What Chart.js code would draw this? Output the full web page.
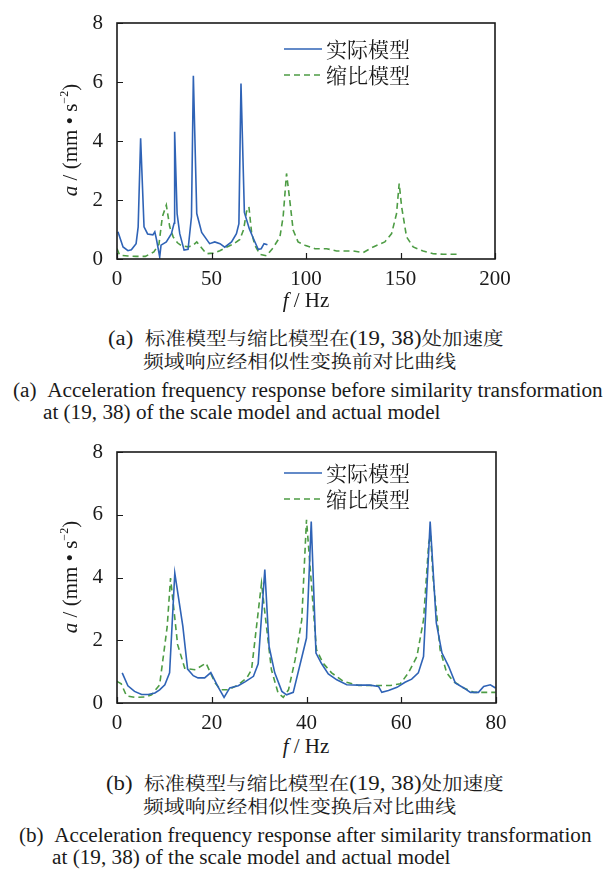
<!DOCTYPE html>
<html>
<head>
<meta charset="utf-8">
<script src="https://cdn.jsdelivr.net/npm/chart.js@4/dist/chart.umd.min.js"></script>
<style>
  body{margin:0;background:#fff;width:606px;height:874px;position:relative;overflow:hidden;
       font-family:"Liberation Serif","Noto Serif CJK SC",serif;color:#1a1a1a;}
  canvas{position:absolute;left:0;}
  .ytitle{position:absolute;white-space:nowrap;font-size:21px;transform:translate(-50%,-50%) rotate(-90deg);}
  .xtitle{position:absolute;white-space:nowrap;font-size:21px;transform:translate(-50%,-50%);}
  .ytitle sup{font-size:12px;vertical-align:9px;}
  .cap{position:absolute;white-space:nowrap;font-size:20px;line-height:24px;transform-origin:0 50%;}
  .cn{font-family:"Noto Serif CJK SC",serif;font-size:18px;}
</style>
</head>
<body>
<canvas id="chartTop" width="606" height="290" style="top:0"></canvas>
<canvas id="chartBottom" width="606" height="300" style="top:430px"></canvas>

<div class="ytitle" style="left:70px;top:140px"><i>a</i> / (mm • s<sup>−2</sup>)</div>
<div class="xtitle" style="left:306px;top:300px"><i>f</i> / Hz</div>
<div class="cap fit" data-w="396" style="left:108px;top:325px">(a)&nbsp;&nbsp;<span class="cn">标准模型与缩比模型在</span>(19, 38)<span class="cn">处加速度</span></div>
<div class="cap fit cn" data-w="313" style="left:143px;top:348px">频域响应经相似性变换前对比曲线</div>
<div class="cap fit" data-w="590" style="left:13px;top:378px">(a)&nbsp;&nbsp;Acceleration frequency response before similarity transformation</div>
<div class="cap fit" data-w="397" style="left:43px;top:400px">at (19, 38) of the scale model and actual model</div>

<div class="ytitle" style="left:70px;top:577px"><i>a</i> / (mm • s<sup>−2</sup>)</div>
<div class="xtitle" style="left:306px;top:746px"><i>f</i> / Hz</div>
<div class="cap fit" data-w="398" style="left:106px;top:770px">(b)&nbsp;&nbsp;<span class="cn">标准模型与缩比模型在</span>(19, 38)<span class="cn">处加速度</span></div>
<div class="cap fit cn" data-w="313" style="left:143px;top:793px">频域响应经相似性变换后对比曲线</div>
<div class="cap fit" data-w="572" style="left:19px;top:823px">(b)&nbsp;&nbsp;Acceleration frequency response after similarity transformation</div>
<div class="cap fit" data-w="398" style="left:52px;top:845px">at (19, 38) of the scale model and actual model</div>

<script>
const seriesNames = ['实际模型', '缩比模型'];
const yTicks = [0, 2, 4, 6, 8];
const xTicksTop = [0, 50, 100, 150, 200];
const xTicksBottom = [0, 20, 40, 60, 80];

// (a) before transformation
const topActualF = [0.5, 3.2, 5.8, 7.6, 10.1, 11.2, 12.5, 14.3, 16.2, 19.0, 20.0, 20.9, 22.6, 23.3, 26.1, 28.8, 30.2, 30.5, 31.8, 33.2, 35.5, 37.6, 39.4, 40.4, 42.2, 44.8, 49.0, 51.7, 54.5, 57.0, 60.6, 63.2, 64.5, 65.6, 67.4, 70.0, 72.0, 74.7, 76.3, 77.8, 79.6];
const topActualA = [0.92, 0.41, 0.28, 0.31, 0.52, 1.09, 4.09, 1.09, 0.85, 0.82, 0.92, 0.66, 0.07, 0.47, 0.58, 0.86, 1.21, 4.31, 1.54, 0.86, 0.30, 0.33, 1.43, 6.21, 1.54, 0.90, 0.52, 0.58, 0.52, 0.40, 0.58, 0.86, 1.20, 5.95, 1.58, 1.03, 0.72, 0.33, 0.35, 0.52, 0.48];
const topScaleF = [0, 1.4, 5.8, 10, 15, 19.5, 22.2, 24.0, 26.1, 27.9, 29.7, 32.0, 34.1, 37.6, 40.2, 42.2, 44.7, 47.3, 50.8, 54.4, 57.9, 61.4, 65.0, 67.0, 68.5, 69.8, 71.2, 72.9, 75.6, 79.1, 82.6, 86.2, 87.9, 89.7, 91.4, 93.2, 95.8, 99.4, 104.7, 110.9, 116.2, 125.0, 130.3, 135.6, 141.7, 145.3, 147.9, 149.3, 150.6, 153.2, 156.7, 162.0, 167.3, 172.6, 179.7];
const topScaleA = [0.35, 0.13, 0.10, 0.09, 0.09, 0.24, 0.50, 1.43, 1.83, 1.09, 0.75, 0.55, 0.45, 0.41, 0.46, 0.58, 0.38, 0.18, 0.20, 0.28, 0.40, 0.50, 0.66, 1.00, 1.60, 1.77, 0.90, 0.47, 0.16, 0.11, 0.38, 0.75, 1.43, 2.90, 2.00, 0.98, 0.58, 0.47, 0.35, 0.35, 0.27, 0.27, 0.22, 0.41, 0.58, 0.86, 1.54, 2.56, 1.77, 0.75, 0.41, 0.27, 0.18, 0.16, 0.16];

// (b) after transformation
const bottomActualF = [1.1, 2.3, 3.7, 5.2, 6.6, 8.0, 9.0, 10.1, 11.1, 12.2, 13.9, 14.9, 16.1, 17.1, 18.5, 19.8, 21.3, 22.6, 23.8, 25.6, 27.1, 28.8, 29.8, 31.2, 32.1, 33.3, 34.8, 35.8, 37.2, 40.0, 41.0, 42.0, 43.2, 44.6, 46.4, 48.5, 51.0, 53.4, 55.2, 55.9, 57.3, 59.1, 60.8, 62.2, 63.6, 64.7, 66.1, 67.4, 68.6, 70.0, 71.4, 73.2, 74.6, 76.3, 77.4, 78.8, 79.9];
const bottomActualA = [0.96, 0.55, 0.37, 0.27, 0.27, 0.32, 0.42, 0.58, 0.96, 4.14, 2.44, 1.08, 0.87, 0.80, 0.80, 0.97, 0.52, 0.18, 0.48, 0.55, 0.68, 0.85, 1.25, 4.25, 1.80, 0.96, 0.37, 0.26, 0.34, 2.07, 5.78, 1.59, 1.25, 0.93, 0.74, 0.58, 0.57, 0.57, 0.53, 0.34, 0.40, 0.50, 0.66, 0.76, 0.96, 1.48, 5.78, 2.55, 1.59, 1.17, 0.64, 0.48, 0.34, 0.34, 0.53, 0.58, 0.48];
const bottomScaleF = [0, 0.9, 2.0, 3.7, 5.9, 7.3, 9.0, 10.6, 11.3, 12.8, 14.3, 16.4, 17.7, 18.8, 20.7, 21.9, 23.5, 25.6, 27.4, 28.4, 30.5, 32.6, 34.0, 35.1, 36.2, 37.6, 39.0, 40.0, 42.1, 43.5, 45.3, 47.8, 51.0, 54.8, 57.7, 59.8, 61.5, 63.3, 64.7, 65.8, 66.2, 66.7, 68.2, 69.6, 71.0, 73.2, 75.3, 77.7, 79.9];
const bottomScaleA = [0.69, 0.61, 0.23, 0.18, 0.19, 0.26, 0.58, 2.44, 3.98, 1.86, 1.11, 1.06, 1.17, 1.27, 0.64, 0.42, 0.42, 0.58, 0.80, 1.06, 3.82, 1.06, 0.32, 0.18, 0.42, 1.38, 2.65, 5.84, 1.70, 1.27, 0.96, 0.69, 0.56, 0.56, 0.56, 0.61, 0.96, 1.48, 2.65, 5.10, 5.36, 4.03, 1.70, 0.96, 0.69, 0.48, 0.34, 0.34, 0.34];

const blue = '#2f63b6';
const green = '#4d9c44';
const ink = '#1a1a1a';
const serif = '"Liberation Serif", serif';

const toPts = (f, a) => f.map((v, i) => ({x: v, y: a[i]}));

// frame, inward ticks and legend drawn inside the plot box
const framePlugin = {
  id: 'frame',
  afterDatasetsDraw(chart, args, opts){
    const {ctx, chartArea: a, scales: {x, y}} = chart;
    ctx.save();
    ctx.strokeStyle = ink;
    ctx.lineWidth = 1.2;
    ctx.beginPath();
    x.ticks.forEach(t => {const p = Math.round(x.getPixelForValue(t.value)) + 0.5; ctx.moveTo(p, a.bottom); ctx.lineTo(p, a.bottom - 6);});
    y.ticks.forEach(t => {const p = Math.round(y.getPixelForValue(t.value)) + 0.5; ctx.moveTo(a.left, p); ctx.lineTo(a.left + 6, p);});
    ctx.stroke();
    ctx.lineWidth = 1.6;
    ctx.strokeRect(a.left, a.top, a.right - a.left, a.bottom - a.top);

    ctx.font = '21px "Noto Serif CJK SC"';
    ctx.textBaseline = 'middle';
    chart.data.datasets.forEach((ds, i) => {
      const ly = a.top + opts.legendY + i * 26;
      const lx = a.left + opts.legendX;
      ctx.strokeStyle = ds.borderColor;
      ctx.lineWidth = 1.6;
      ctx.setLineDash(ds.borderDash || []);
      ctx.beginPath(); ctx.moveTo(lx, ly); ctx.lineTo(lx + 38, ly); ctx.stroke();
      ctx.setLineDash([]);
      ctx.fillStyle = ink;
      ctx.fillText(ds.label, lx + 42, ly);
    });
    ctx.restore();
  }
};

function makeChart(id, xTicks, actual, scale, padTop, padRight, axisH, legendY){
  return new Chart(document.getElementById(id), {
    type: 'line',
    data: {
      datasets: [
        {label: seriesNames[0], data: actual, borderColor: blue, borderWidth: 1.6, pointRadius: 0, tension: 0},
        {label: seriesNames[1], data: scale, borderColor: green, borderWidth: 1.6, borderDash: [6, 4], pointRadius: 0, tension: 0}
      ]
    },
    options: {
      responsive: false,
      animation: false,
      devicePixelRatio: 1,
      layout: {padding: {top: padTop, right: padRight, left: 0, bottom: 0}},
      plugins: {
        legend: {display: false},
        tooltip: {enabled: false},
        frame: {legendX: 167, legendY: legendY}
      },
      scales: {
        x: {
          type: 'linear', min: xTicks[0], max: xTicks[xTicks.length - 1],
          ticks: {stepSize: xTicks[1] - xTicks[0], color: ink, font: {family: serif, size: 21}, padding: 0, maxRotation: 0},
          grid: {display: false}, border: {display: false},
          afterFit: s => { s.height = axisH; }
        },
        y: {
          min: yTicks[0], max: yTicks[yTicks.length - 1],
          ticks: {stepSize: yTicks[1] - yTicks[0], color: ink, font: {family: serif, size: 21}, padding: 6},
          grid: {display: false}, border: {display: false},
          afterFit: s => { s.width = 117; }
        }
      }
    },
    plugins: [framePlugin]
  });
}

makeChart('chartTop', xTicksTop, toPts(topActualF, topActualA), toPts(topScaleF, topScaleA), 23, 111, 31, 26);
makeChart('chartBottom', xTicksBottom, toPts(bottomActualF, bottomActualA), toPts(bottomScaleF, bottomScaleA), 22, 110, 27, 21);

document.querySelectorAll('.fit').forEach(el => {
  el.style.transform = 'scaleX(' + (+el.dataset.w / el.offsetWidth) + ')';
});
</script>
</body>
</html>
